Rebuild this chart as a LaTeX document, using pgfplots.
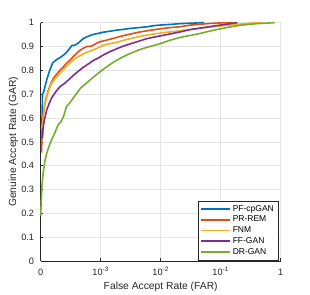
\documentclass[border=0pt]{standalone}
\usepackage{fontspec}
\setmainfont{Liberation Sans}
\usepackage{pgfplots}
\pgfplotsset{compat=1.18}
\definecolor{mblue}{rgb}{0,0.447,0.741}
\definecolor{morange}{rgb}{0.85,0.325,0.098}
\definecolor{myellow}{rgb}{0.929,0.694,0.125}
\definecolor{mpurple}{rgb}{0.494,0.184,0.556}
\definecolor{mgreen}{rgb}{0.466,0.674,0.188}
\definecolor{axgray}{rgb}{0.15,0.15,0.15}
\definecolor{gridgray}{rgb}{0.9,0.9,0.9}
\begin{document}
\begin{tikzpicture}
\useasboundingbox (0,0) rectangle (310pt,294pt);
\begin{axis}[
  at={(40.7pt,33pt)}, anchor=south west,
  scale only axis, width=240pt, height=238.3pt,
  xmin=0, xmax=4, ymin=0, ymax=1,
  axis x line*=bottom, axis y line*=left,
  axis line style={axgray, line width=0.5pt, -},
  clip=false,
  xtick={0,1,2,3,4},
  xticklabels={0,10\textsuperscript{-3},10\textsuperscript{-2},10\textsuperscript{-1},1},
  ytick={0,0.1,0.2,0.3,0.4,0.5,0.6,0.7,0.8,0.9,1},
  yticklabels={0,0.1,0.2,0.3,0.4,0.5,0.6,0.7,0.8,0.9,1},
  tick align=inside, major tick length=2.5pt,
  tick style={axgray, line width=0.5pt},
  grid=major, major grid style={gridgray, line width=0.5pt},
  ticklabel style={font=\fontsize{9.2}{11}\selectfont, text=axgray, inner sep=0pt},
  xticklabel style={anchor=base, yshift=-14.7pt},
  yticklabel style={anchor=east, xshift=-6.4pt},
  xlabel={False Accept Rate (FAR)},
  ylabel={Genuine Accept Rate (GAR)},
  label style={font=\fontsize{10.3}{12}\selectfont, text=axgray},
  xlabel style={at={(axis description cs:0.5,-0.107)}, anchor=center},
  ylabel style={at={(axis description cs:-0.113,0.5)}, anchor=center},
  legend style={at={(rel axis cs:0.989,0.002)}, anchor=south east,
    draw=axgray, fill=white,
    font=\fontsize{8.5}{10}\selectfont, text=black,
    row sep=-0.6pt, inner xsep=2pt, inner ysep=2.5pt},
  legend cell align=left,
  legend image code/.code={\draw[mark repeat=2,mark phase=2,#1] plot coordinates {(0pt,0pt) (14.5pt,0pt) (29pt,0pt)};},
  legend image post style={line width=1.6pt},
]
\addplot[color=mblue, line width=1.6pt, line join=round] coordinates {(0.02,0.571) (0.03,0.70) (0.05,0.71) (0.1,0.76) (0.15,0.80) (0.2,0.832) (0.27,0.846) (0.33,0.855) (0.38,0.864) (0.43,0.875) (0.47,0.888) (0.52,0.904) (0.57,0.906) (0.62,0.913) (0.67,0.925) (0.72,0.935) (0.8,0.944) (0.88,0.951) (0.96,0.955) (1.04,0.960) (1.15,0.964) (1.27,0.969) (1.38,0.972) (1.49,0.976) (1.62,0.979) (1.77,0.983) (1.9,0.988) (2.04,0.991) (2.18,0.993) (2.32,0.996) (2.5,0.998) (2.72,1.0)};
\addlegendentry{PF-cpGAN}
\addplot[color=morange, line width=1.6pt, line join=round] coordinates {(0.015,0.455) (0.02,0.54) (0.04,0.61) (0.07,0.662) (0.1,0.692) (0.13,0.718) (0.17,0.745) (0.21,0.766) (0.27,0.785) (0.32,0.800) (0.38,0.815) (0.43,0.830) (0.49,0.843) (0.54,0.857) (0.6,0.872) (0.66,0.885) (0.72,0.894) (0.77,0.900) (0.83,0.901) (0.88,0.906) (0.94,0.915) (0.99,0.920) (1.1,0.927) (1.21,0.934) (1.35,0.944) (1.49,0.952) (1.63,0.96) (1.77,0.966) (1.9,0.971) (2.04,0.976) (2.18,0.98) (2.32,0.983) (2.5,0.99) (2.65,0.993) (2.82,0.997) (3.0,0.999) (3.21,1.0)};
\addlegendentry{PR-REM}
\addplot[color=myellow, line width=1.6pt, line join=round] coordinates {(0.02,0.55) (0.04,0.60) (0.07,0.66) (0.1,0.69) (0.14,0.72) (0.18,0.745) (0.25,0.768) (0.32,0.787) (0.38,0.805) (0.43,0.818) (0.49,0.832) (0.54,0.843) (0.62,0.856) (0.71,0.869) (0.8,0.879) (0.88,0.886) (0.96,0.895) (1.04,0.905) (1.15,0.912) (1.27,0.918) (1.38,0.926) (1.49,0.933) (1.63,0.941) (1.77,0.948) (1.9,0.953) (2.04,0.958) (2.18,0.962) (2.32,0.966) (2.5,0.972) (2.7,0.978) (2.88,0.983) (3.1,0.989) (3.32,0.994) (3.5,0.998) (3.71,1.0)};
\addlegendentry{FNM}
\addplot[color=mpurple, line width=1.6pt, line join=round] coordinates {(0.03,0.515) (0.04,0.56) (0.06,0.59) (0.1,0.634) (0.14,0.66) (0.18,0.683) (0.25,0.71) (0.32,0.731) (0.38,0.742) (0.43,0.752) (0.49,0.766) (0.54,0.778) (0.62,0.795) (0.71,0.813) (0.8,0.828) (0.88,0.842) (0.96,0.852) (1.04,0.864) (1.15,0.878) (1.27,0.891) (1.38,0.902) (1.49,0.911) (1.63,0.922) (1.77,0.933) (1.9,0.94) (2.04,0.947) (2.18,0.954) (2.32,0.961) (2.49,0.971) (2.7,0.979) (2.88,0.986) (3.08,0.993) (3.28,1.0)};
\addlegendentry{FF-GAN}
\addplot[color=mgreen, line width=1.6pt, line join=round] coordinates {(0.0,0.19) (0.01,0.256) (0.02,0.31) (0.04,0.368) (0.07,0.42) (0.1,0.452) (0.14,0.482) (0.18,0.508) (0.24,0.54) (0.29,0.571) (0.34,0.585) (0.38,0.606) (0.43,0.648) (0.48,0.662) (0.52,0.676) (0.59,0.70) (0.66,0.724) (0.74,0.742) (0.82,0.759) (0.9,0.776) (0.99,0.794) (1.1,0.815) (1.21,0.834) (1.32,0.85) (1.43,0.864) (1.55,0.877) (1.66,0.888) (1.82,0.9) (1.99,0.912) (2.15,0.926) (2.32,0.938) (2.5,0.947) (2.66,0.955) (2.82,0.965) (2.99,0.974) (3.15,0.982) (3.32,0.989) (3.6,0.996) (3.9,1.0)};
\addlegendentry{DR-GAN}
\end{axis}
\end{tikzpicture}
\end{document}
